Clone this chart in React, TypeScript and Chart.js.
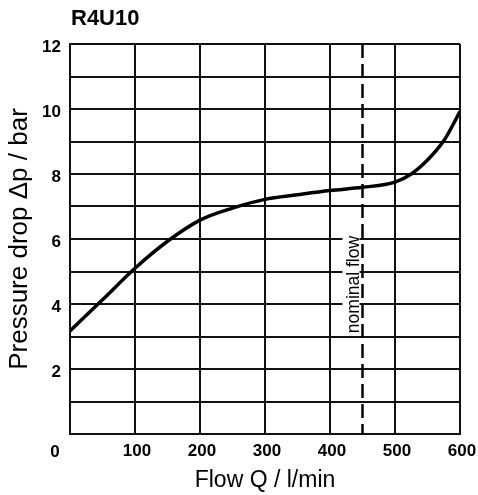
import React, { useEffect, useRef } from 'react';
import { Chart, registerables } from 'chart.js';

Chart.register(...registerables);

const TITLE = 'R4U10';
const flowQ = [0, 50, 100, 150, 200, 250, 300, 350, 400, 450, 500, 525, 550, 575, 600];
const pressure = [3.17, 4.13, 5.1, 5.93, 6.58, 6.95, 7.22, 7.36, 7.49, 7.59, 7.75, 8.0, 8.43, 9.02, 9.92];
const nominalFlowQ = 450;
const nominalFlowLabel = 'nominal flow';
const xTickValues = [0, 100, 200, 300, 400, 500, 600];
const yTickLabels = [2, 4, 6, 8, 10, 12];
const xTitle = 'Flow Q / l/min';
const yTitle = 'Pressure drop Δp / bar';

const FONT = "'Liberation Sans', Arial, Helvetica, sans-serif";

const overlayPlugin = {
  id: 'overlay',
  afterDraw(chart: any) {
    const { ctx, chartArea } = chart;
    const x = chart.scales.x;
    const y = chart.scales.y;
    ctx.save();
    ctx.fillStyle = '#000';
    ctx.font = `bold 22px ${FONT}`;
    ctx.textAlign = 'left';
    ctx.textBaseline = 'middle';
    ctx.fillText(TITLE, chartArea.left + 1, 19);

    ctx.font = `bold 17px ${FONT}`;
    ctx.textAlign = 'center';
    ctx.textBaseline = 'middle';
    ctx.fillText(String(xTickValues[0]), x.getPixelForValue(xTickValues[0]) - 15, 452);

    const bx = x.getPixelForValue(nominalFlowQ) - 4;
    const cy = y.getPixelForValue(4.6);
    ctx.font = `17.5px ${FONT}`;
    const w = ctx.measureText(nominalFlowLabel).width;
    ctx.translate(bx, cy);
    ctx.rotate(-Math.PI / 2);
    ctx.fillStyle = '#fff';
    ctx.fillRect(-w / 2 - 2, -16, w + 4, 17);
    ctx.fillStyle = '#000';
    ctx.textAlign = 'center';
    ctx.textBaseline = 'alphabetic';
    ctx.fillText(nominalFlowLabel, 0, 0);
    ctx.restore();
  },
};

export default function App() {
  const canvasRef = useRef<HTMLCanvasElement | null>(null);

  useEffect(() => {
    if (!canvasRef.current) return;
    const chart = new Chart(canvasRef.current, {
      type: 'line',
      data: {
        datasets: [
          {
            data: flowQ.map((q, i) => ({ x: q, y: pressure[i] })),
            borderColor: '#000',
            borderWidth: 3.5,
            pointRadius: 0,
            cubicInterpolationMode: 'monotone',
            fill: false,
          },
          {
            data: [
              { x: nominalFlowQ, y: 12 },
              { x: nominalFlowQ, y: 0 },
            ],
            borderColor: '#000',
            borderWidth: 2.5,
            borderDash: [14, 6],
            pointRadius: 0,
            fill: false,
          },
        ],
      },
      options: {
        animation: false,
        responsive: false,
        layout: { padding: { left: 0, right: 18, top: 44, bottom: 0 } },
        plugins: {
          legend: { display: false },
          tooltip: { enabled: false },
          title: { display: false },
        },
        scales: {
          x: {
            type: 'linear',
            min: 0,
            max: 600,
            afterFit: (s: any) => {
              s.height = 61;
              s.paddingLeft = 0;
              s.paddingRight = 0;
            },
            afterBuildTicks: (s: any) => {
              s.ticks = xTickValues.map((v) => ({ value: v }));
            },
            ticks: {
              autoSkip: false,
              maxRotation: 0,
              padding: 7,
              labelOffset: 2,
              color: '#000',
              font: { family: FONT, size: 17, weight: 'bold' },
              callback: (v: any) => (v === xTickValues[0] ? '' : String(v)),
            },
            grid: { color: '#111', lineWidth: 2, drawTicks: false },
            border: { display: true, color: '#111', width: 2 },
            title: {
              display: true,
              text: xTitle,
              color: '#000',
              font: { family: FONT, size: 23 },
              padding: { top: 0, bottom: 1 },
            },
          },
          y: {
            type: 'linear',
            min: 0,
            max: 12,
            afterFit: (s: any) => {
              s.width = 70;
              s.paddingTop = 0;
              s.paddingBottom = 0;
            },
            ticks: {
              stepSize: 1,
              autoSkip: false,
              padding: 9,
              labelOffset: 3.5,
              color: '#000',
              font: { family: FONT, size: 17, weight: 'bold' },
              callback: (v: any) => (yTickLabels.includes(v) ? String(v) : ''),
            },
            grid: { color: '#111', lineWidth: 2, drawTicks: false },
            border: { display: true, color: '#111', width: 2 },
            title: {
              display: true,
              text: yTitle,
              color: '#000',
              font: { family: FONT, size: 26 },
              padding: { top: 4, bottom: 0 },
            },
          },
        },
      },
      plugins: [overlayPlugin],
    } as any);
    return () => chart.destroy();
  }, []);

  return (
    <div style={{ position: 'fixed', left: 0, top: 0, width: 478, height: 495, background: '#fff' }}>
      <canvas ref={canvasRef} width={478} height={495} style={{ display: 'block' }} />
    </div>
  );
}
